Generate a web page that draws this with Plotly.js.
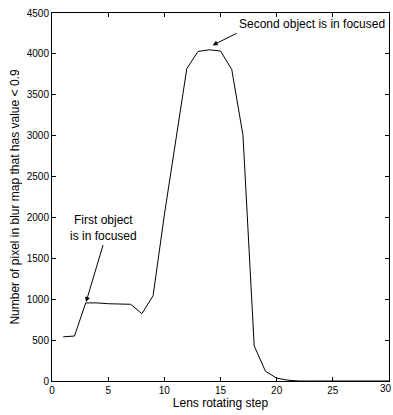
<!DOCTYPE html>
<html>
<head>
<meta charset="utf-8">
<script src="https://cdn.plot.ly/plotly-3.0.1.min.js"></script>
<style>html,body{margin:0;padding:0;background:#fff;}#chart{width:393px;height:415px;}</style>
</head>
<body>
<div id="chart"></div>
<script>
var steps = [1,2,3,4,5,6,7,8,9,10,11,12,13,14,15,16,17,18,19,20,21,22,23,24,25,26,27,28,29,30];
var pixelCounts = [540,550,955,955,945,940,938,823,1043,2030,2900,3820,4030,4050,4035,3810,3005,430,120,35,10,0,0,0,0,0,0,0,0,0];
var xTicks = [0,5,10,15,20,25,30];
var xTickLabels = ['0','5','10','15','20','25',''];
var lastXTickLabel = '30';
var yTicks = [0,500,1000,1500,2000,2500,3000,3500,4000,4500];

var font = {family: 'Liberation Sans, Arial, Helvetica, sans-serif', color: '#000'};
var axisCommon = {
  showline: true, linecolor: '#000', linewidth: 1, mirror: 'ticks',
  ticks: 'inside', ticklen: 4, tickcolor: '#000', tickwidth: 1,
  showgrid: false, zeroline: false,
  tickfont: Object.assign({size: 10}, font)
};

var layout = {
  width: 393, height: 415,
  margin: {l: 52, r: 4, t: 13, b: 34},
  paper_bgcolor: '#fff', plot_bgcolor: '#fff',
  showlegend: false,
  xaxis: Object.assign({}, axisCommon, {
    range: [0, 30], tickvals: xTicks, ticktext: xTickLabels,
    title: {text: 'Lens rotating step', font: Object.assign({size: 12}, font), standoff: 1}
  }),
  yaxis: Object.assign({}, axisCommon, {
    range: [0, 4500], tickvals: yTicks, ticktext: yTicks.map(String),
    title: {text: 'Number of pixel in blur map that has value < 0.9', font: Object.assign({size: 12}, font), standoff: 4}
  }),
  annotations: [
    {
      x: 14.3, y: 4105, xref: 'x', yref: 'y',
      text: 'Second object is in focused', showarrow: true,
      ax: 24, ay: -12, xanchor: 'left', yanchor: 'bottom',
      arrowhead: 2, arrowsize: 1, arrowwidth: 1, arrowcolor: '#000',
      font: Object.assign({size: 12}, font)
    },
    {
      x: 3.03, y: 965, xref: 'x', yref: 'y',
      text: 'First object<br>is in focused', showarrow: true,
      ax: 17, ay: -57, xanchor: 'center', yanchor: 'bottom',
      arrowhead: 2, arrowsize: 1, arrowwidth: 1, arrowcolor: '#000',
      font: Object.assign({size: 12}, font)
    },
    {
      x: 1 + 4 / 337, y: 0, xref: 'paper', yref: 'paper',
      text: lastXTickLabel, showarrow: false,
      xanchor: 'right', yanchor: 'top', yshift: -1,
      borderpad: 0,
      font: Object.assign({size: 10}, font)
    }
  ]
};

Plotly.newPlot('chart', [{
  x: steps, y: pixelCounts, type: 'scatter', mode: 'lines',
  line: {color: '#000', width: 1}
}], layout, {displayModeBar: false, staticPlot: true});
</script>
</body>
</html>
